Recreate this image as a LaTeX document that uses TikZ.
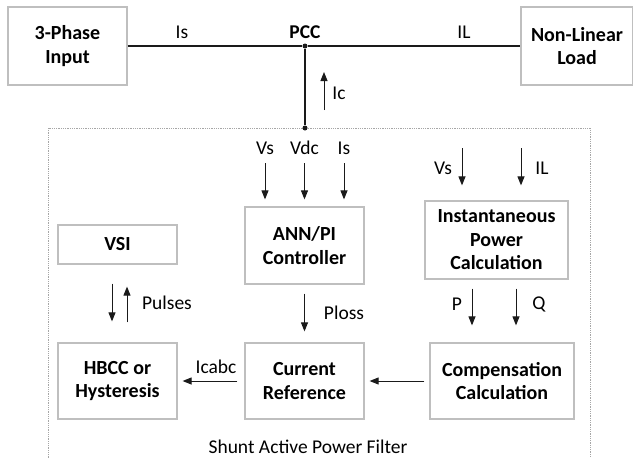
\documentclass[tikz,border=0pt]{standalone}
\usepackage{fontspec}
\setmainfont{Carlito}
\usepackage{tikz}
\usetikzlibrary{
  arrows.meta,
  positioning,
  calc
}
\definecolor{apfBox}{HTML}{BFBFBF}
\definecolor{apfZone}{HTML}{A6A6A6}
\definecolor{apfLine}{HTML}{1A1A1A}
\tikzset{
  apfnode/.style={
    draw=apfBox, line width=1.2pt, fill=white, inner sep=0pt, align=center,
    font=\fontsize{20}{23.5}\selectfont\bfseries
  },
  block/.style={apfnode, minimum width=119pt, minimum height=77pt},
  blockwide/.style={apfnode, minimum width=144pt, minimum height=77pt},
  blockflat/.style={apfnode, minimum width=119pt, minimum height=39pt},
  zone/.style={draw=apfZone, densely dotted, line width=0.8pt},
  power/.style={line width=1.3pt, apfLine},
  junction/.style={circle, fill=apfLine, inner sep=0pt, minimum size=5pt},
  sig/.style={-{Triangle[length=9pt, width=7pt]}, line width=1pt, apfLine},
  tag/.style={font=\fontsize{19.5}{23}\selectfont, inner sep=1pt},
  btag/.style={tag, font=\fontsize{19.5}{23}\selectfont\bfseries}
}

\begin{document}
\begin{tikzpicture}[x=1pt, y=-1pt]
  \useasboundingbox (0,0) rectangle (633,458);
  % filter boundary
  \draw[zone] (48,128) rectangle (590,466);
  \node[tag] (sapf) at (308,447) {Shunt Active Power Filter};

  % supply side
  \node[block, minimum height=78pt] (inp) at (67.5,46) {3-Phase\\Input};
  \node[apfnode, minimum width=112pt, minimum height=78pt] (load) at (577,46) {Non-Linear\\Load};
  \node[junction] (pcc) at (305,46) {};
  \node[junction] (tap) at (305,128) {};
  \draw[power] (inp.east) -- (pcc) -- (load.west);
  \draw[power] (pcc) -- (tap);
  \node[btag] (pcclbl) at (305,32) {PCC};
  \node[tag] (islbl) at (182,32) {Is};
  \node[tag] (illbl) at (464,32) {IL};
  \coordinate (icS) at (324,110);
  \coordinate (icE) at (324,72);
  \draw[sig] (icS) -- (icE);
  \node[tag] (iclbl) at (339,93) {Ic};

  % control blocks
  \node[block] (ann) at (304.5,245.5) {ANN/PI\\Controller};
  \node[blockflat] (vsi) at (117.5,244.5) {VSI};
  \node[blockwide, minimum width=143pt, minimum height=78pt] (ipc) at (496.5,240) {Instantaneous\\Power\\Calculation};
  \node[block, minimum height=76pt] (hbcc) at (117.5,381) {HBCC or\\Hysteresis};
  \node[block, minimum height=76pt] (cref) at (304.5,381) {Current\\Reference};
  \node[blockwide, minimum height=76pt] (comp) at (502,381) {Compensation\\Calculation};

  % inputs of the controller
  \coordinate (vsA) at (265,163);
  \coordinate (vdcA) at (304.5,163);
  \coordinate (isA) at (344,163);
  \draw[sig, shorten >=7pt] (vsA) -- (vsA |- ann.north);
  \draw[sig, shorten >=7pt] (vdcA) -- (vdcA |- ann.north);
  \draw[sig, shorten >=7pt] (isA) -- (isA |- ann.north);
  \node[tag] (vslbl) at (265,148) {Vs};
  \node[tag] (vdclbl) at (304.5,148) {Vdc};
  \node[tag] (is2lbl) at (344,148) {Is};

  % inputs of the power calculation
  \coordinate (vsB) at (462,148);
  \coordinate (ilB) at (521,148);
  \draw[sig, shorten >=15pt] (vsB) -- (vsB |- ipc.north);
  \draw[sig, shorten >=15pt] (ilB) -- (ilB |- ipc.north);
  \node[tag] (vs2lbl) at (443,168) {Vs};
  \node[tag] (il2lbl) at (542,168) {IL};

  % P and Q
  \coordinate (pX) at (472,0);
  \coordinate (qX) at (516,0);
  \draw[sig, shorten <=9pt, shorten >=17pt] (pX |- ipc.south) -- (pX |- comp.north);
  \draw[sig, shorten <=9pt, shorten >=17pt] (qX |- ipc.south) -- (qX |- comp.north);
  \node[tag] (plbl) at (457,304) {P};
  \node[tag] (qlbl) at (539,304) {Q};

  % Ploss
  \draw[sig, shorten <=9pt, shorten >=11pt] (ann.south) -- (cref.north);
  \node[tag] (plosslbl) at (344,313) {Ploss};

  % pulses
  \draw[sig, shorten <=19pt, shorten >=21pt] ([xshift=-5.5pt]vsi.south) -- ([xshift=-5.5pt]hbcc.north);
  \draw[sig, shorten <=20pt, shorten >=22pt] ([xshift=9.5pt]hbcc.north) -- ([xshift=9.5pt]vsi.south);
  \node[tag] (pulselbl) at (167,303) {Pulses};

  % reference path
  \draw[sig, shorten <=5pt, shorten >=5pt] (comp.west) -- (cref.east);
  \draw[sig, shorten <=7pt, shorten >=5pt] (cref.west) -- (hbcc.east);
  \node[tag] (icabclbl) at (216,367) {Icabc};
\end{tikzpicture}
\end{document}
